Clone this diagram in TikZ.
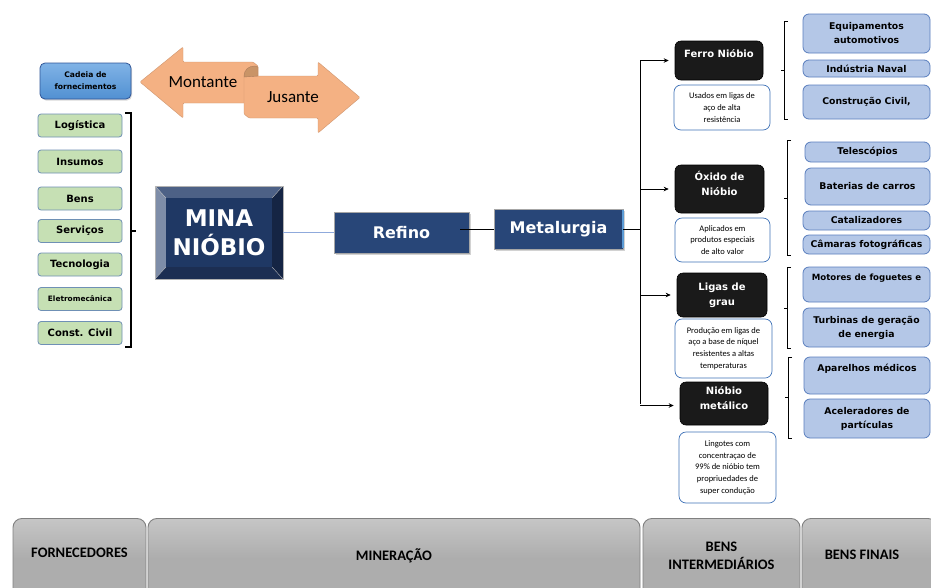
\documentclass[tikz,border=0pt]{standalone}
\usepackage{fontspec}
\setmainfont{Carlito}
\newfontfamily\dvs{DejaVu Sans}
\usetikzlibrary{arrows.meta,shadows}
\definecolor{peach}{HTML}{F4B183}
\definecolor{peachd}{HTML}{C99467}
\definecolor{greenf}{HTML}{C6E0B4}
\definecolor{greenb}{HTML}{6F90B5}
\definecolor{navy}{HTML}{1F3864}
\definecolor{refn}{HTML}{284678}
\definecolor{blackf}{HTML}{1A1A1A}
\definecolor{whiteb}{HTML}{3F72B8}
\definecolor{bluef}{HTML}{B4C7E7}
\definecolor{blueb}{HTML}{5B7FBE}
\definecolor{grayf}{HTML}{ADADAD}
\definecolor{grayb}{HTML}{808080}
\definecolor{linkc}{HTML}{8FAADC}
\definecolor{cadtop}{HTML}{80B3E6}
\definecolor{cadbot}{HTML}{5190D2}
\definecolor{cadb}{HTML}{2F5597}
\tikzset{
  greenbox/.style={draw=greenb, fill=greenf, rounded corners=3pt, line width=0.8pt,
    minimum width=84pt, minimum height=23pt, inner sep=0pt,
    font=\dvs\bfseries\fontsize{10}{12}\selectfont},
  darkbox/.style={draw=gray!70, fill=refn, line width=0.8pt, inner sep=0pt,
    text=white, font=\dvs\bfseries\fontsize{16}{18}\selectfont,
    drop shadow={shadow xshift=2pt, shadow yshift=-2pt, opacity=0.35}},
  blackbox/.style={draw=black, fill=blackf, rounded corners=6pt, line width=0.6pt,
    minimum width=88pt, inner sep=0pt, text=white, align=center,
    font=\dvs\bfseries\fontsize{10}{15}\selectfont},
  whitebox/.style={draw=whiteb, fill=white, rounded corners=7pt, line width=0.7pt,
    minimum width=96pt, inner sep=0pt, align=center,
    font=\fontsize{8.5}{11.7}\selectfont},
  bluebox/.style={draw=blueb, fill=bluef, rounded corners=6pt, line width=0.8pt,
    minimum width=127pt, inner sep=0pt, align=center,
    font=\dvs\bfseries\fontsize{9.3}{14}\selectfont},
  graybox/.style={draw=grayb, top color=gray!45, bottom color=grayf, middle color=grayf,
    rounded corners=9pt, line width=0.9pt, inner sep=0pt, minimum height=80pt},
  graytext/.style={align=center, font=\bfseries\fontsize{14.5}{18}\selectfont},
  arr/.style={-{Stealth[length=5pt,width=4.5pt]}, line width=0.7pt, shorten >=6pt},
  brk/.style={line width=0.7pt},
}
\begin{document}
\begin{tikzpicture}[x=1pt,y=-1pt]
\useasboundingbox (0,0) rectangle (931,587);
\clip (0,0) rectangle (931,587);
\fill[white] (0,0) rectangle (931,587);

% ---- Cadeia de fornecimentos
\node[draw=cadb, top color=cadtop, bottom color=cadbot,
  rounded corners=5pt, line width=0.8pt, minimum width=91pt, minimum height=36pt,
  inner sep=0pt, align=center, font=\dvs\bfseries\fontsize{7.6}{12}\selectfont,
  drop shadow={shadow xshift=1pt, shadow yshift=-1.5pt, opacity=0.3}]
  (cadeia) at (85.5,81) {Cadeia de\\fornecimentos};

% ---- Montante / Jusante arrows
\filldraw[fill=peach, draw=peach!85!black, line width=0.4pt, rounded corners=1pt]
  (140,82) -- (183,47) -- (183,62) -- (253,62) -- (258,66) -- (258,103) -- (183,103) -- (183,118) -- cycle;
\filldraw[fill=peach, draw=peach!85!black, line width=0.4pt, rounded corners=1pt]
  (244,76) -- (318,76) -- (318,62) -- (360,97.5) -- (318,133) -- (318,118) -- (249,118) -- (244,114) -- cycle;
\filldraw[fill=peachd, draw=peach!70!black, line width=0.4pt]
  (244,77) .. controls (244,69) and (249,66) .. (255,66) -- (258,67) -- (258,76) -- cycle;
\node[font=\fontsize{17}{20}\selectfont] (mont) at (203,82) {Montante};
\node[font=\fontsize{17}{20}\selectfont] (jus) at (293,97) {Jusante};

% ---- Green supplier boxes
\node[greenbox] (g1) at (80,125.5) {Logística};
\node[greenbox] (g2) at (80,161.5) {Insumos};
\node[greenbox] (g3) at (80,198.5) {Bens};
\node[greenbox] (g4) at (80,231) {Serviços};
\node[greenbox] (g5) at (80,264.5) {Tecnologia};
\node[greenbox, font=\dvs\bfseries\fontsize{7.4}{9}\selectfont] (g6) at (80,299) {Eletromecânica};
\node[greenbox] (g7) at (80,333) {Const. Civil};
\draw[line width=1.1pt] (125,113) -- (131,113) -- (131,347) -- (125,347);
\draw[line width=1.1pt] (131,231) -- (136,231);

% ---- MINA NIOBIO bevel
\fill[fill={rgb,255:red,77;green,97;blue,134}] (155,186) -- (283,186) -- (272,198) -- (166,198) -- cycle;
\fill[fill={rgb,255:red,126;green,141;blue,168}] (155,186) -- (166,198) -- (166,267) -- (155,279) -- cycle;
\fill[fill={rgb,255:red,21;green,37;blue,68}] (283,186) -- (283,279) -- (272,267) -- (272,198) -- cycle;
\fill[fill={rgb,255:red,28;green,46;blue,82}] (155,279) -- (283,279) -- (272,267) -- (166,267) -- cycle;
\fill[navy] (166,198) rectangle (272,267);
\draw[gray!60, line width=0.5pt] (155,186) rectangle (283,279);
\draw[gray!50, line width=0.3pt] (155,186) -- (166,198) (283,186) -- (272,198) (155,279) -- (166,267) (283,279) -- (272,267);
\node[minimum width=128pt, minimum height=93pt, inner sep=0pt, text=white, align=center,
  font=\dvs\bfseries\fontsize{23}{29}\selectfont] (mina) at (219,232.5) {MINA\\NIÓBIO};

% ---- Refino / Metalurgia
\node[darkbox, minimum width=135pt, minimum height=41pt] (refino) at (401.5,232.5) {Refino};
\node[darkbox, minimum width=129pt, minimum height=40pt] (metal) at (558.5,229) {Metalurgia};
\draw[color={rgb,255:red,91;green,155;blue,213}, line width=2.5pt]
  ([xshift=-0.5pt,yshift=-1pt]metal.north east) -- ([xshift=-0.5pt,yshift=1pt]metal.south east);
\draw[linkc, line width=1pt] (mina.east) -- (refino.west);
\draw[line width=0.7pt] ([xshift=-9pt]refino.east |- metal.west) -- (metal.west);

% ---- Black product boxes
\node[blackbox, minimum height=39pt] (ferro) at (719,60.5) {};
\node[text=white, font=\dvs\bfseries\fontsize{10}{15}\selectfont] (ferrot) at (719,54) {Ferro Nióbio};
\node[blackbox, minimum width=89pt, minimum height=48pt] (oxido) at (719.5,189) {Óxido de\\Nióbio\\[-4pt]};
\node[blackbox, minimum width=90pt, minimum height=44pt] (ligas) at (722,295) {Ligas de\\grau};
\node[blackbox, minimum width=88pt, minimum height=43pt] (nmet) at (724,403.5) {Nióbio\\metálico\\[-3pt]};

% ---- White description boxes
\node[whitebox, minimum height=45pt] (w1) at (722,107.5) {Usados em ligas de\\aço de alta\\resistência};
\node[whitebox, minimum width=95pt, minimum height=44pt] (w2) at (722.5,240) {Aplicados em\\produtos especiais\\de alto valor};
\node[whitebox, minimum width=97pt, minimum height=59pt] (w3) at (723.5,348.5) {Produção em ligas de\\aço a base de níquel\\resistentes a altas\\temperaturas};
\node[whitebox, minimum width=97pt, minimum height=71pt] (w4) at (727.5,467.5) {Lingotes com\\concentraçao de\\99\% de nióbio tem\\propriuedades de\\super condução};

% ---- Trunk and arrows
\coordinate (tx) at (640,0);
\draw[line width=0.7pt] (metal.east) -- (metal.east -| tx);
\draw[line width=0.7pt] (ferro.west -| tx) -- (nmet.west -| tx);
\draw[arr] (ferro.west -| tx) -- (ferro.west);
\draw[arr] (oxido.west -| tx) -- (oxido.west);
\draw[arr] (ligas.west -| tx) -- (ligas.west);
\draw[arr] ([yshift=-2pt]nmet.west -| tx) -- ([yshift=-2pt]nmet.west);

% ---- Brackets
\draw[brk] (788,21) -- (784,21) -- (784,119) -- (788,119) (784,70) -- (781,70);
\draw[brk] (791,140) -- (787,140) -- (787,255) -- (791,255) (787,198) -- (784,198);
\draw[brk] (791,267) -- (787,267) -- (787,348) -- (791,348) (787,308) -- (784,308);
\draw[brk] (792,357) -- (788,357) -- (788,438) -- (792,438) (788,397) -- (785,397);

% ---- Blue final-goods boxes
\node[bluebox, minimum height=39pt] (b1) at (866.5,33.5) {Equipamentos\\automotivos};
\node[bluebox, minimum height=17pt] (b2) at (866.5,68.5) {Indústria Naval};
\node[bluebox, minimum height=34pt] (b3) at (866.5,102) {Construção Civil,};
\node[bluebox, minimum width=125pt, minimum height=20pt] (b4) at (867.5,152) {Telescópios};
\node[bluebox, minimum width=125pt, minimum height=37pt] (b5) at (867.5,186.5) {Baterias de carros};
\node[bluebox, minimum height=19pt] (b6) at (866.5,220.5) {Catalizadores};
\node[bluebox, minimum height=19pt] (b7) at (866.5,244.5) {Câmaras fotográficas};
\node[bluebox, minimum height=35pt] (b8) at (866.5,284.5) {};
\node[font=\dvs\bfseries\fontsize{8.6}{12}\selectfont] (b8t) at (866.5,278) {Motores de foguetes e};
\node[bluebox, minimum height=39pt] (b9) at (866.5,327.5) {Turbinas de geração\\de energia};
\node[bluebox, minimum width=126pt, minimum height=37pt] (b10) at (867,375.5) {};
\node[font=\dvs\bfseries\fontsize{9.3}{14}\selectfont] (b10t) at (867,369) {Aparelhos médicos};
\node[bluebox, minimum width=126pt, minimum height=39pt] (b11) at (867,418.5) {Aceleradores de\\partículas};

% ---- Bottom category bar
\node[graybox, minimum width=133pt, anchor=north] (c1) at (79.5,518) {};
\node[graybox, minimum width=492pt, anchor=north] (c2) at (394,518) {};
\node[graybox, minimum width=157pt, anchor=north] (c3) at (721.5,518) {};
\node[graybox, minimum width=135pt, anchor=north] (c4) at (869.5,518) {};
\node[graytext] (c1t) at (79.5,553) {FORNECEDORES};
\node[graytext] (c2t) at (394,556) {MINERAÇÃO};
\node[graytext] (c3t) at (721.5,556) {BENS\\INTERMEDIÁRIOS};
\node[graytext] (c4t) at (862,555) {BENS FINAIS};
\end{tikzpicture}
\end{document}
